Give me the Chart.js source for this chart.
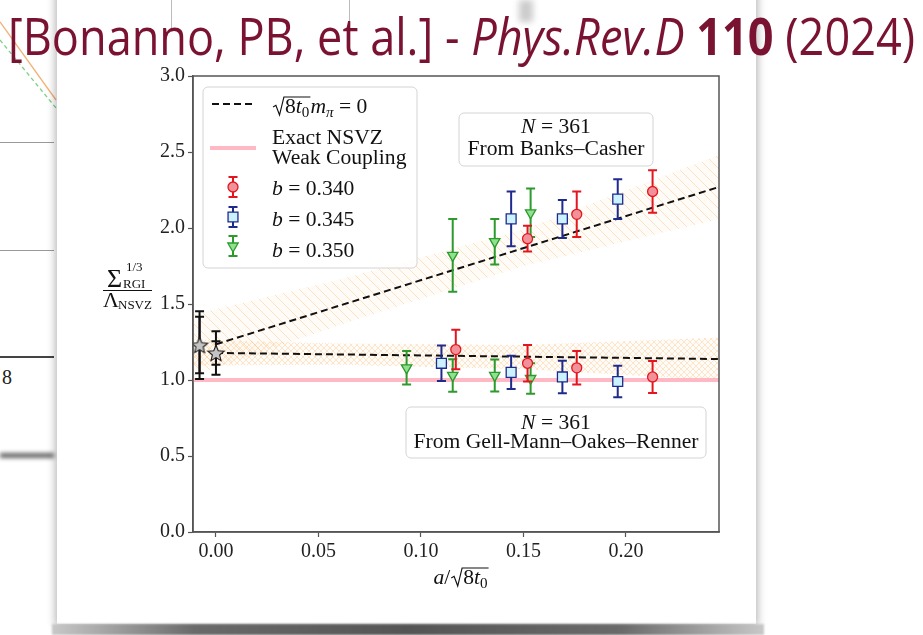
<!DOCTYPE html>
<html lang="en">
<head>
<meta charset="UTF-8" />
<meta name="viewport" content="width=device-width, initial-scale=1" />
<title>Chiral condensate – continuum limit</title>
<script src="https://cdn.jsdelivr.net/npm/chart.js"></script>
<style>
  html, body { margin: 0; padding: 0; background: #fff; }
  body { width: 923px; height: 635px; position: relative; overflow: hidden; }
  #leftfig { position: absolute; left: 0; top: 0; width: 60px; height: 635px; }
  .hl { position: absolute; left: 0; width: 54px; height: 1px; background: #9a9a9a; }
  .eight { position: absolute; left: 2px; top: 366px; font: 20px "Liberation Serif", serif; color: #222; }
  #card { position: absolute; left: 57px; top: -20px; width: 699px; height: 644px; background: #fff;
          box-shadow: 0 0 8px 2px rgba(0,0,0,0.28); }
  #cardFoot { position: absolute; left: 52px; top: 624px; width: 712px; height: 11px; filter: blur(1px);
              background: linear-gradient(to right, #c8c8c8, #6a6a6a 20%, #555 50%, #6a6a6a 80%, #c8c8c8); }
  #chartBox { position: absolute; left: 0; top: 0; width: 923px; height: 635px; }
  #title { position: absolute; left: 8px; top: 4px; white-space: nowrap; transform-origin: left top;
           font: 52px "Liberation Sans Narrow", "Open Sans", sans-serif; color: #7a1232; line-height: 1.2; }
</style>
</head>
<body>

<div id="leftfig">
  <svg width="60" height="130" style="position:absolute;left:0;top:0">
    <line x1="0" y1="22" x2="56" y2="100" stroke="#f2b27a" stroke-width="1.3" />
    <line x1="0" y1="40" x2="56" y2="108" stroke="#7fcf8a" stroke-width="1.3" stroke-dasharray="4 3" />
  </svg>
  <div class="hl" style="top:142px"></div>
  <div class="hl" style="top:250px"></div>
  <div class="hl" style="top:356px;height:2px;background:#444"></div>
  <div class="eight">8</div>
  <div class="hl" style="top:453px;height:5px;background:#666;filter:blur(2px)"></div>
</div>

<div id="card"></div>
<div id="cardFoot"></div>
<div style="position:absolute;left:171px;top:0;width:1px;height:28px;background:#bbb"></div>
<div style="position:absolute;left:349px;top:0;width:1px;height:28px;background:#bbb"></div>
<div style="position:absolute;left:519px;top:0;width:14px;height:22px;background:#ccc;filter:blur(3px)"></div>

<div id="chartBox"><canvas id="condChart"></canvas></div>

<div id="title">[Bonanno, PB, et al.] - <i>Phys.Rev.D</i> <b>110</b> (2024)</div>

<script>
  // axis ticks
  const xTicks = [0, 0.05, 0.10, 0.15, 0.20];
  const yTicks = [0, 0.5, 1.0, 1.5, 2.0, 2.5, 3.0];
  const xMin = -0.0112, xMax = 0.2454;

  // a/sqrt(8 t0) of the ensembles, one array per coupling b
  const a340 = [0.117, 0.152, 0.176, 0.213];
  const a345 = [0.110, 0.144, 0.169, 0.196];
  const a350 = [0.093, 0.1155, 0.136, 0.1535];

  // Banks-Casher determination (three finest lattices of each b)
  const bc340 = [1.93, 2.09, 2.24];
  const bc340Err = [0.085, 0.15, 0.14];
  const bc345 = [2.06, 2.06, 2.19];
  const bc345Err = [0.18, 0.125, 0.13];
  const bc350 = [1.82, 1.91, 2.10];
  const bc350Err = [0.24, 0.15, 0.16];

  // GMOR determination
  const gmor340 = [1.20, 1.11, 1.08, 1.02];
  const gmor340Err = [0.13, 0.12, 0.11, 0.105];
  const gmor345 = [1.11, 1.05, 1.02, 0.99];
  const gmor345Err = [0.117, 0.11, 0.107, 0.104];
  const gmor350 = [1.08, 1.03, 1.03, 1.01];
  const gmor350Err = [0.11, 0.107, 0.105, 0.10];

  // continuum limits (BC shifted slightly left), stat and total errors
  const contX = [-0.008, 0.0];
  const contY = [1.23, 1.178];
  const contErrStat = [0.186, 0.077];
  const contErrTot = [0.223, 0.143];

  // chiral-limit fits and their bands
  const fitX = [0, xMax];
  const bcFit = [1.235, 2.27];
  const gmorFit = [1.178, 1.138];
  const bandX = [xMin, 0.06, 0.15, xMax];
  const bcBandLo = [1.03, 1.36, 1.75, 2.06];
  const bcBandHi = [1.43, 1.66, 1.99, 2.48];
  const gmorBandLo = [1.095, 1.10, 1.07, 1.00];
  const gmorBandHi = [1.265, 1.24, 1.23, 1.28];

  // exact NSVZ weak-coupling value
  const nsvzX = [xMin, xMax];
  const nsvzY = [1.0, 1.0];

  const pts = (xs, ys) => xs.map((x, i) => ({ x, y: ys[i] }));

  const RED = '#e3161f', BLUE = '#1f2b8c', GREEN = '#2c9a2c';
  const redFill = '#f1929a', blueFill = '#cdf2ff', greenFill = '#8fe08f';
  const PINK = 'rgb(255,184,196)';

  function hatch(cross) {
    const n = cross ? 6 : 10;
    const c = document.createElement('canvas');
    c.width = c.height = n;
    const g = c.getContext('2d');
    g.fillStyle = 'rgba(255,215,170,0.08)';
    g.fillRect(0, 0, n, n);
    g.strokeStyle = cross ? 'rgba(246,180,110,0.32)' : 'rgba(246,180,110,0.38)';
    g.lineWidth = 1;
    g.beginPath();
    g.moveTo(-n, 0); g.lineTo(n, 2 * n);
    g.moveTo(0, 0); g.lineTo(n, n);
    g.moveTo(0, -n); g.lineTo(2 * n, n);
    if (cross) {
      g.moveTo(0, n); g.lineTo(n, 0);
      g.moveTo(-n, n); g.lineTo(n, -n);
      g.moveTo(0, 2 * n); g.lineTo(2 * n, 0);
    }
    g.stroke();
    return g.createPattern(c, 'repeat');
  }

  function starImage() {
    const c = document.createElement('canvas');
    c.width = c.height = 20;
    const g = c.getContext('2d');
    g.beginPath();
    for (let k = 0; k < 10; k++) {
      const r = k % 2 ? 3.8 : 8.5;
      const t = -Math.PI / 2 + k * Math.PI / 5;
      g.lineTo(10 + r * Math.cos(t), 10.8 + r * Math.sin(t));
    }
    g.closePath();
    g.fillStyle = '#c4c4c4';
    g.fill();
    g.strokeStyle = '#222';
    g.lineWidth = 1.1;
    g.stroke();
    return c;
  }

  // ---------- small math-text helper ----------
  const SX = 1.08;
  const fontOf = (p, size) => `${p.b ? 'bold ' : ''}${p.i ? 'italic ' : ''}${size}px "Liberation Serif", serif`;
  function partWidth(ctx, p, size) {
    if (p.sqrt) return size * 0.6 + partsWidth(ctx, p.sqrt, size) + 1;
    ctx.font = fontOf(p, size * (p.s || 1));
    return ctx.measureText(p.t).width;
  }
  function partsWidth(ctx, parts, size) {
    return parts.reduce((w, p) => w + partWidth(ctx, p, size), 0);
  }
  function drawParts(ctx, parts, x, y, size) {
    for (const p of parts) {
      const w = partWidth(ctx, p, size);
      if (p.sqrt) {
        const r = size * 0.6, top = y - size * 0.8;
        ctx.save();
        ctx.lineWidth = 1.1;
        ctx.beginPath();
        ctx.moveTo(x + 1, y - size * 0.3);
        ctx.lineTo(x + r * 0.3, y - size * 0.38);
        ctx.lineTo(x + r * 0.58, y + size * 0.1);
        ctx.lineTo(x + r * 0.92, top);
        ctx.lineTo(x + w, top);
        ctx.stroke();
        ctx.restore();
        drawParts(ctx, p.sqrt, x + r, y, size);
      } else {
        ctx.font = fontOf(p, size * (p.s || 1));
        ctx.fillText(p.t, x, y + (p.dy || 0) * size);
      }
      x += w;
    }
  }
  function rich(ctx, parts, x, y, size, align) {
    const w = partsWidth(ctx, parts, size) * SX;
    const x0 = align === 'center' ? x - w / 2 : x;
    ctx.save();
    ctx.translate(x0, y);
    ctx.scale(SX, 1);
    ctx.textAlign = 'left';
    ctx.textBaseline = 'alphabetic';
    ctx.fillStyle = '#111';
    ctx.strokeStyle = '#111';
    drawParts(ctx, parts, 0, 0, size);
    ctx.restore();
  }
  function roundBox(ctx, x0, y0, x1, y1) {
    ctx.save();
    ctx.beginPath();
    ctx.roundRect(x0, y0, x1 - x0, y1 - y0, 5);
    ctx.fillStyle = 'rgba(255,255,255,0.85)';
    ctx.fill();
    ctx.strokeStyle = '#d4d4d4';
    ctx.lineWidth = 1;
    ctx.stroke();
    ctx.restore();
  }

  function drawErr(ctx, px, top, bot, color) {
    ctx.strokeStyle = color;
    ctx.lineWidth = 2;
    ctx.beginPath();
    ctx.moveTo(px, top); ctx.lineTo(px, bot);
    ctx.moveTo(px - 4.5, top); ctx.lineTo(px + 4.5, top);
    ctx.moveTo(px - 4.5, bot); ctx.lineTo(px + 4.5, bot);
    ctx.stroke();
  }

  // vertical error bars, drawn just under each point set
  const errorBars = {
    id: 'errorBars',
    beforeDatasetDraw(chart, args) {
      const ds = chart.data.datasets[args.index];
      if (!ds.yErr) return;
      const xs = chart.scales.x, ys = chart.scales.y, ctx = chart.ctx;
      ctx.save();
      ds.data.forEach((p, i) => {
        const px = xs.getPixelForValue(p.x);
        [ds.yErr, ds.yErr2].forEach(err => {
          if (!err) return;
          drawErr(ctx, px, ys.getPixelForValue(p.y + err[i]), ys.getPixelForValue(p.y - err[i]), ds.borderColor);
        });
      });
      ctx.restore();
    }
  };

  // frame, legend, annotation boxes and axis titles
  const decorations = {
    id: 'decorations',
    afterDraw(chart) {
      const ctx = chart.ctx, a = chart.chartArea;
      ctx.save();
      ctx.strokeStyle = '#555';
      ctx.lineWidth = 1.5;
      ctx.strokeRect(a.left, a.top, a.right - a.left, a.bottom - a.top);

      // legend
      roundBox(ctx, 203, 87, 417, 268);
      ctx.strokeStyle = '#111';
      ctx.lineWidth = 2;
      ctx.setLineDash([7, 4]);
      ctx.beginPath(); ctx.moveTo(212, 104); ctx.lineTo(252, 104); ctx.stroke();
      ctx.setLineDash([]);
      ctx.strokeStyle = PINK;
      ctx.lineWidth = 4;
      ctx.beginPath(); ctx.moveTo(210, 148); ctx.lineTo(256, 148); ctx.stroke();
      const legendPts = [
        { y: 187, color: RED, fill: redFill, style: 'circle', r: 5, rot: 0 },
        { y: 217, color: BLUE, fill: blueFill, style: 'rect', r: 7, rot: 0 },
        { y: 246, color: GREEN, fill: greenFill, style: 'triangle', r: 6, rot: 180 }
      ];
      legendPts.forEach(m => {
        drawErr(ctx, 233, m.y - 10, m.y + 10, m.color);
        ctx.fillStyle = m.fill;
        ctx.strokeStyle = m.color;
        ctx.lineWidth = 1.3;
        Chart.helpers.drawPoint(ctx, { pointStyle: m.style, radius: m.r, rotation: m.rot, borderWidth: 1.3 }, 233, m.y);
      });
      rich(ctx, [{ sqrt: [{ t: '8' }, { t: 't', i: 1 }, { t: '0', s: 0.7, dy: 0.22 }] },
                 { t: 'm', i: 1 }, { t: 'π', i: 1, s: 0.7, dy: 0.22 }, { t: ' = 0' }], 272, 113, 20);
      rich(ctx, [{ t: 'Exact NSVZ' }], 272, 144, 20);
      rich(ctx, [{ t: 'Weak Coupling' }], 272, 164, 20);
      rich(ctx, [{ t: 'b', i: 1 }, { t: ' = 0.340' }], 272, 195, 20);
      rich(ctx, [{ t: 'b', i: 1 }, { t: ' = 0.345' }], 272, 226, 20);
      rich(ctx, [{ t: 'b', i: 1 }, { t: ' = 0.350' }], 272, 257, 20);

      // annotation boxes
      roundBox(ctx, 459, 113, 653, 166);
      rich(ctx, [{ t: 'N', i: 1 }, { t: ' = 361' }], 556, 133, 20, 'center');
      rich(ctx, [{ t: 'From Banks–Casher' }], 556, 155, 20, 'center');
      roundBox(ctx, 406, 407, 706, 458);
      rich(ctx, [{ t: 'N', i: 1 }, { t: ' = 361' }], 556, 429, 20, 'center');
      rich(ctx, [{ t: 'From Gell-Mann–Oakes–Renner' }], 556, 448, 20, 'center');

      // x title
      rich(ctx, [{ t: 'a', i: 1 }, { t: '/' }, { sqrt: [{ t: '8' }, { t: 't', i: 1 }, { t: '0', s: 0.7, dy: 0.22 }] }], 461, 584, 20, 'center');

      // y title: Sigma_RGI^{1/3} / Lambda_NSVZ
      ctx.fillStyle = '#111';
      ctx.textBaseline = 'alphabetic';
      ctx.textAlign = 'left';
      ctx.font = '26px "Liberation Serif", serif';
      ctx.fillText('Σ', 107, 287);
      ctx.font = '13px "Liberation Serif", serif';
      ctx.fillText('1/3', 126, 271);
      ctx.fillText('RGI', 123, 288);
      ctx.font = '22px "Liberation Serif", serif';
      ctx.fillText('Λ', 103, 307);
      ctx.font = '13px "Liberation Serif", serif';
      ctx.fillText('NSVZ', 118, 309);
      ctx.strokeStyle = '#111';
      ctx.lineWidth = 1;
      ctx.beginPath(); ctx.moveTo(103, 290.5); ctx.lineTo(152, 290.5); ctx.stroke();
      ctx.restore();
    }
  };

  const tickFont = { family: '"Liberation Serif", serif', size: 20 };
  const axisStyle = {
    grid: { drawOnChartArea: false, drawTicks: true, tickLength: 5, color: '#555', tickWidth: 1.2 },
    border: { display: true, color: '#555', width: 1.5 }
  };

  const ctx = document.getElementById('condChart').getContext('2d');
  new Chart(ctx, {
    type: 'scatter',
    data: {
      datasets: [
        // point sets (drawn on top)
        { label: 'BC b=0.340', data: pts(a340.slice(1), bc340), yErr: bc340Err, pointStyle: 'circle', pointRadius: 5,
          backgroundColor: redFill, borderColor: RED, borderWidth: 1.3, order: 0 },
        { label: 'BC b=0.345', data: pts(a345.slice(1), bc345), yErr: bc345Err, pointStyle: 'rect', pointRadius: 7,
          backgroundColor: blueFill, borderColor: BLUE, borderWidth: 1.3, order: 0 },
        { label: 'BC b=0.350', data: pts(a350.slice(1), bc350), yErr: bc350Err, pointStyle: 'triangle', pointRadius: 6, rotation: 180,
          backgroundColor: greenFill, borderColor: GREEN, borderWidth: 1.3, order: 0 },
        { label: 'GMOR b=0.340', data: pts(a340, gmor340), yErr: gmor340Err, pointStyle: 'circle', pointRadius: 5,
          backgroundColor: redFill, borderColor: RED, borderWidth: 1.3, order: 0 },
        { label: 'GMOR b=0.345', data: pts(a345, gmor345), yErr: gmor345Err, pointStyle: 'rect', pointRadius: 7,
          backgroundColor: blueFill, borderColor: BLUE, borderWidth: 1.3, order: 0 },
        { label: 'GMOR b=0.350', data: pts(a350, gmor350), yErr: gmor350Err, pointStyle: 'triangle', pointRadius: 6, rotation: 180,
          backgroundColor: greenFill, borderColor: GREEN, borderWidth: 1.3, order: 0 },
        { label: 'continuum', data: pts(contX, contY), yErr: contErrTot, yErr2: contErrStat, pointStyle: starImage(),
          backgroundColor: '#c4c4c4', borderColor: '#111', order: 0 },
        // fits
        { label: 'BC fit', data: pts(fitX, bcFit), showLine: true, pointRadius: 0, borderColor: '#111',
          borderWidth: 2, borderDash: [7, 4], order: 3 },
        { label: 'GMOR fit', data: pts(fitX, gmorFit), showLine: true, pointRadius: 0, borderColor: '#111',
          borderWidth: 2, borderDash: [7, 4], order: 3 },
        { label: 'NSVZ', data: pts(nsvzX, nsvzY), showLine: true, pointRadius: 0, borderColor: PINK,
          borderWidth: 4, order: 4 },
        // bands
        { label: 'BC band lo', data: pts(bandX, bcBandLo), showLine: true, pointRadius: 0, borderWidth: 0, order: 8 },
        { label: 'BC band hi', data: pts(bandX, bcBandHi), showLine: true, pointRadius: 0, borderWidth: 0,
          fill: '-1', backgroundColor: hatch(false), order: 8 },
        { label: 'GMOR band lo', data: pts(bandX, gmorBandLo), showLine: true, pointRadius: 0, borderWidth: 0, order: 9 },
        { label: 'GMOR band hi', data: pts(bandX, gmorBandHi), showLine: true, pointRadius: 0, borderWidth: 0,
          fill: '-1', backgroundColor: hatch(true), order: 9 }
      ]
    },
    options: {
      responsive: true,
      maintainAspectRatio: false,
      animation: false,
      layout: { padding: { left: 0, top: 76, right: 204, bottom: 43 } },
      plugins: { legend: { display: false }, tooltip: { enabled: false } },
      scales: {
        x: {
          type: 'linear', min: xMin, max: xMax,
          afterFit: s => { s.height = 60; },
          afterBuildTicks: s => { s.ticks = xTicks.map(v => ({ value: v })); },
          ticks: { callback: v => v.toFixed(2), font: tickFont, color: '#222', padding: 3, maxRotation: 0 },
          ...axisStyle
        },
        y: {
          type: 'linear', min: 0, max: 3,
          afterFit: s => { s.width = 193; },
          afterBuildTicks: s => { s.ticks = yTicks.map(v => ({ value: v })); },
          ticks: { callback: v => v.toFixed(1), font: tickFont, color: '#222', padding: 3 },
          ...axisStyle
        }
      }
    },
    plugins: [errorBars, decorations]
  });

  // stretch the slide header across the page
  const title = document.getElementById('title');
  title.style.transform = `scaleX(${907 / title.getBoundingClientRect().width})`;
</script>

</body>
</html>
